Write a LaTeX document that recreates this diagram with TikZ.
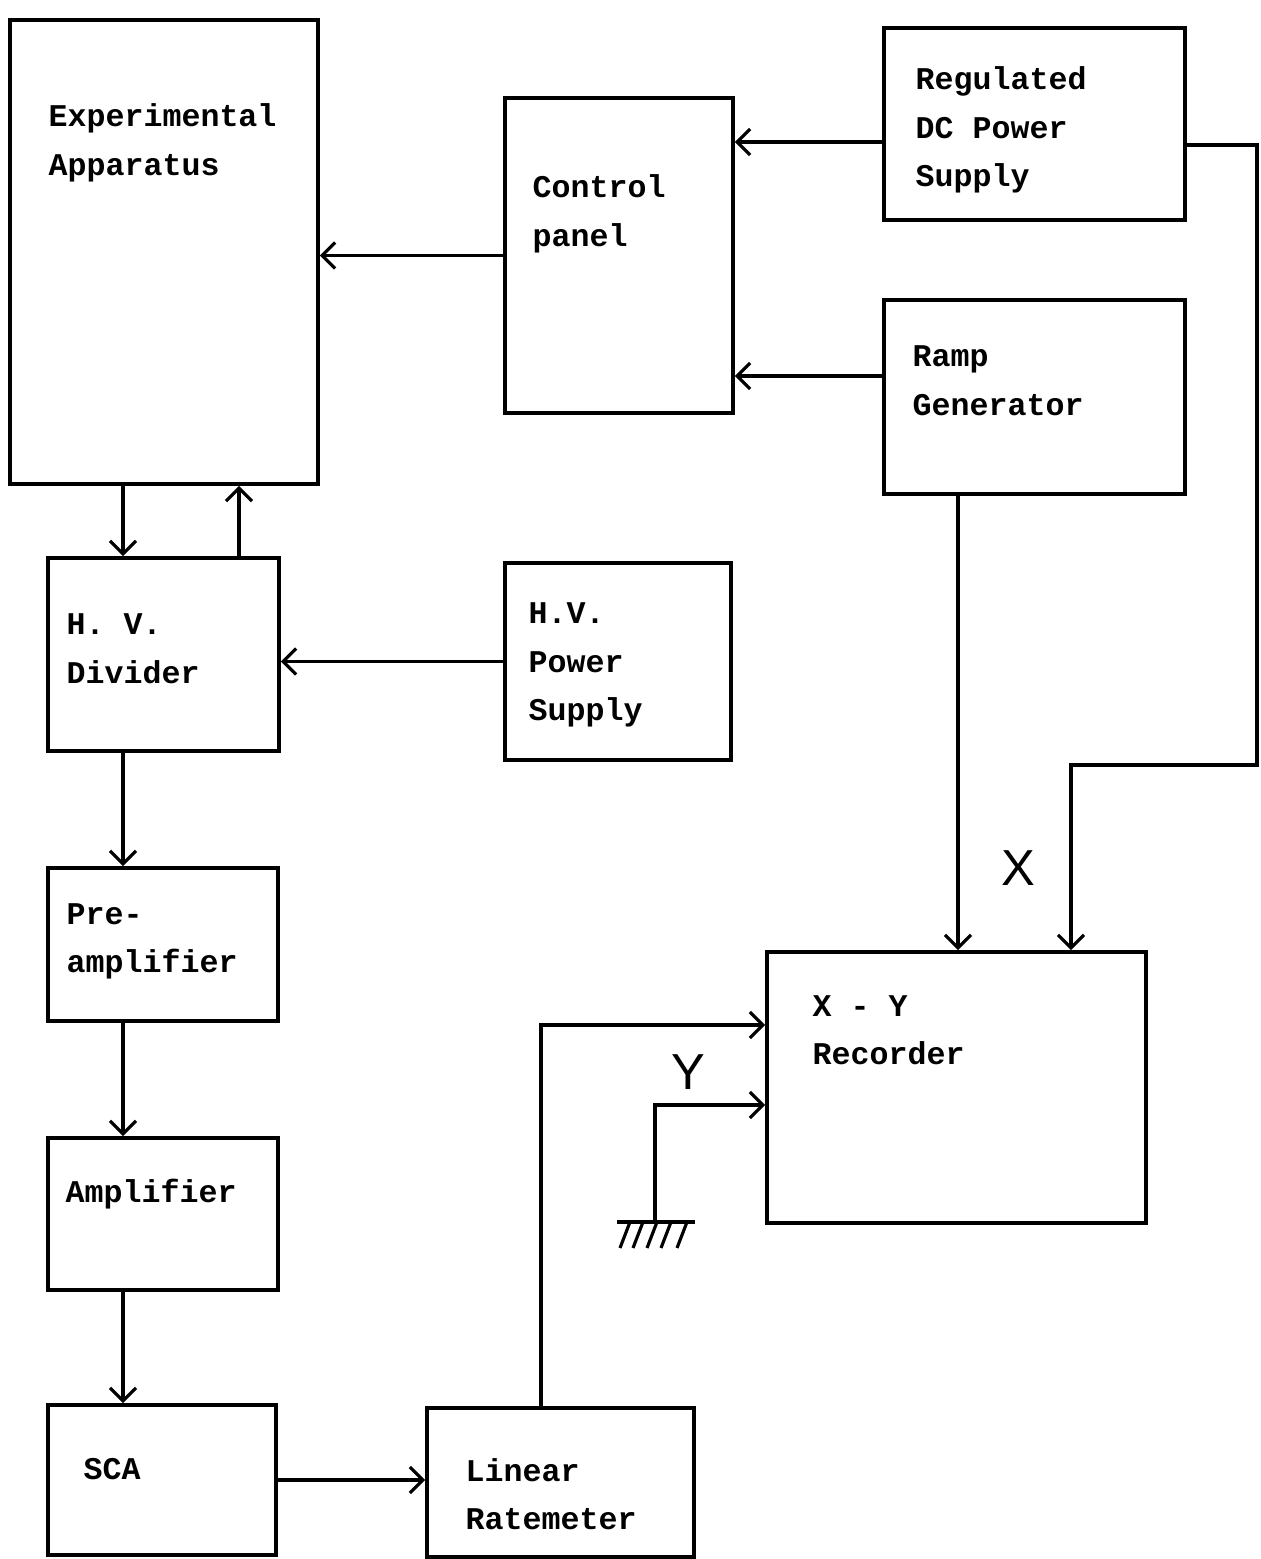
\documentclass[tikz,border=0pt]{standalone}
\usepackage{fontspec}
\setmonofont{Liberation Mono}
\setsansfont{Liberation Sans}
\usetikzlibrary{arrows.meta}

\begin{document}
\begin{tikzpicture}[
    blk/.style={draw, line width=1.1pt, inner sep=0pt},
    txt/.style={anchor=west, align=left, inner sep=0pt,
        font=\fontsize{9}{13.8}\selectfont\ttfamily\bfseries},
    sig/.style={line width=0.9pt, -{Straight Barb[length=1.3mm, width=2.6mm]}},
    lbl/.style={font=\sffamily\Large}
]

    % --- Frame (keeps the page size) ---
    \useasboundingbox (0,0) rectangle (12.6,15.59);

    % --- Blocks ---
    \node[blk, minimum width=3.08cm, minimum height=4.64cm] (exp)  at (1.64, 13.07) {};
    \node[blk, minimum width=2.28cm, minimum height=3.15cm] (ctrl) at (6.19, 13.035) {};
    \node[blk, minimum width=3.01cm, minimum height=1.92cm] (reg)  at (10.345, 14.35) {};
    \node[blk, minimum width=3.01cm, minimum height=1.94cm] (ramp) at (10.345, 11.62) {};
    \node[blk, minimum width=2.31cm, minimum height=1.93cm] (hvd)  at (1.635, 9.045) {};
    \node[blk, minimum width=2.26cm, minimum height=1.97cm] (hvps) at (6.18, 8.975) {};
    \node[blk, minimum width=2.30cm, minimum height=1.53cm] (pre)  at (1.63, 6.145) {};
    \node[blk, minimum width=2.30cm, minimum height=1.52cm] (amp)  at (1.63, 3.45) {};
    \node[blk, minimum width=2.28cm, minimum height=1.50cm] (sca)  at (1.62, 0.79) {};
    \node[blk, minimum width=2.67cm, minimum height=1.49cm] (lin)  at (5.605, 0.765) {};
    \node[blk, minimum width=3.79cm, minimum height=2.71cm] (xy)   at (9.565, 4.715) {};

    % --- Block texts (upper left of each block) ---
    \node[txt] (exptxt)  at (0.48, 14.16) {Experimental\\Apparatus};
    \node[txt] (ctrltxt) at (5.32, 13.45) {Control\\panel};
    \node[txt] (regtxt)  at (9.15, 14.29) {Regulated\\DC Power\\Supply};
    \node[txt] (ramptxt) at (9.12, 11.78) {Ramp\\Generator};
    \node[txt] (hvdtxt)  at (0.66, 9.105) {H. V.\\Divider};
    \node[txt] (hvpstxt) at (5.28, 8.94) {H.V.\\Power\\Supply};
    \node[txt] (pretxt)  at (0.66, 6.175) {Pre-\\amplifier};
    \node[txt] (amptxt)  at (0.65, 3.65) {Amplifier};
    \node[txt] (scatxt)  at (0.83, 0.90) {SCA};
    \node[txt] (lintxt)  at (4.65, 0.65) {Linear\\Ratemeter};
    \node[txt] (xytxt)   at (8.12, 5.29) {X - Y\\Recorder};

    % --- Upper part ---
    \draw[sig] (ctrl.west) -- (ctrl.west -| exp.east);
    \draw[sig] ([yshift=-1.8mm]reg.west) -- ([yshift=-1.8mm]reg.west -| ctrl.east);
    \draw[sig] ([yshift=2.1mm]ramp.west) -- ([yshift=2.1mm]ramp.west -| ctrl.east);

    % --- Detector chain ---
    \draw[sig] ([xshift=-4.05mm]hvd.north |- exp.south) -- ([xshift=-4.05mm]hvd.north);
    \draw[sig] ([xshift=7.55mm]hvd.north) -- ([xshift=7.55mm]hvd.north |- exp.south);
    \draw[sig] (hvps.west) -- (hvps.west -| hvd.east);
    \foreach \a/\b in {hvd/pre, pre/amp, amp/sca}
        \draw[sig] ([xshift=-4mm]\a.south -| pre.center) -- ([xshift=-4mm]\b.north -| pre.center);
    \draw[sig] (sca.east) -- (sca.east -| lin.west);

    % --- Recorder inputs ---
    \draw[sig] ([xshift=-1.95mm]lin.north) |- ([yshift=6.25mm]xy.west);
    \draw[sig] ([xshift=-7.65mm]ramp.south) -- ([xshift=-7.65mm]ramp.south |- xy.north);
    \coordinate (rt) at (12.57, 7.94);
    \draw[sig] ([yshift=-2.1mm]reg.east) -| (rt) -| ([xshift=11.45mm]xy.north);

    % --- Ground and Y input ---
    \coordinate (gnd) at (6.55, 3.37);
    \draw[sig] (gnd) |- ([yshift=-1.75mm]xy.west);
    \draw[line width=0.9pt] (6.17, 3.37) -- (6.95, 3.37);
    \foreach \x in {6.30, 6.43, 6.57, 6.71, 6.87}
        \draw[line width=0.9pt] (\x, 3.37) -- ++(-0.1, -0.26);

    % --- Axis labels ---
    \node[lbl] (xlbl) at (10.18, 6.91) {X};
    \node[lbl] (ylbl) at (6.88, 4.87) {Y};

\end{tikzpicture}
\end{document}
